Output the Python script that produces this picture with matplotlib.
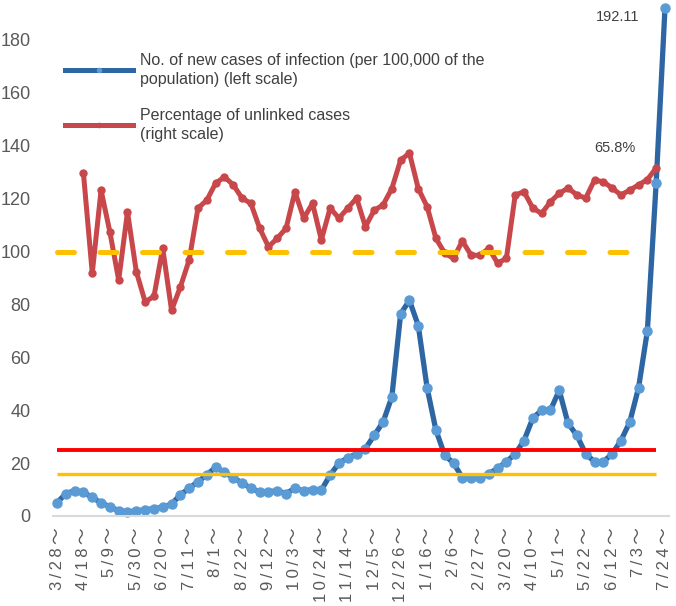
import numpy as np
import matplotlib
matplotlib.use("Agg")
import matplotlib.pyplot as plt
from matplotlib.lines import Line2D

plt.rcParams['font.family'] = ['Liberation Sans', 'DejaVu Sans', 'Noto Sans CJK JP']

# weekly data, 3/28 .. 7/24 (70 weeks), tick label every 3rd week
tick_weeks = ['3/28', '4/18', '5/9', '5/30', '6/20', '7/11', '8/1', '8/22',
              '9/12', '10/3', '10/24', '11/14', '12/5', '12/26', '1/16', '2/6',
              '2/27', '3/20', '4/10', '5/1', '5/22', '6/12', '7/3', '7/24']

# new cases per 100,000 (left scale)
new_cases = [5, 8.5, 9.5, 9, 7, 5, 3.5, 2, 1.5, 2,
             2.3, 2.8, 3.3, 4.5, 8, 10.5, 13, 15.5, 18.5, 16.5,
             14.5, 12.5, 10.5, 9, 9.2, 9.5, 8.5, 10.5, 9.5, 10,
             9.8, 15.5, 20, 22, 23.5, 25.5, 30.5, 35.5, 45, 76.5,
             81.5, 72, 48.5, 32.5, 23, 20, 14.5, 14.5, 14.5, 16,
             18, 20.5, 23.5, 28.5, 37, 40, 40, 47.5, 35, 30.5,
             23.5, 20.5, 20.5, 23.5, 28.5, 35.5, 48.5, 70, 126, 192.11]

# percentage of unlinked cases (right scale), starts at week 4/18
unlinked_first_week = 3
unlinked_pct = [64.8, 45.9, 61.6, 53.7, 44.6, 57.5, 46.2, 40.5, 41.5, 50.6,
                38.9, 43.3, 48.4, 58.2, 59.7, 62.9, 64.1, 62.6, 60.1, 59.1,
                54.4, 50.9, 52.5, 54.4, 61.3, 56.3, 59.1, 52.2, 58.2, 56.3,
                58.2, 60.1, 54.7, 57.8, 58.8, 61.9, 67.3, 68.6, 61.9, 58.5,
                52.5, 49.7, 48.7, 52.0, 49.3, 49.3, 50.6, 47.8, 48.7, 60.7,
                61.3, 58.2, 57.2, 59.4, 61.0, 62.0, 60.7, 60.1, 63.5, 63.2,
                62.0, 60.7, 61.6, 62.6, 63.6, 65.8]

stage4_level = 25      # red line (left scale)
stage3_level = 16      # yellow line (left scale)
unlinked_ref = 50      # dashed yellow (right scale, %)

blue_line = '#2D66A3'
blue_mark = '#5B9BD5'
red_series = '#C8474B'
red_hline = '#FF0000'
yellow = '#FFC000'
grey_txt = '#595959'

fig = plt.figure(figsize=(6.76, 6.06), dpi=100)
ax = fig.add_axes([52.6 / 676, 90 / 606, 616.8 / 676, 516 / 606])

x = np.arange(len(new_cases))
n_ref = len(x) - 1

ax.plot(x, new_cases, color=blue_line, lw=3.8, marker='o', ms=6.5,
        mfc=blue_mark, mec=blue_mark, zorder=2, clip_on=False)
ax.plot(x[:n_ref], [stage4_level] * n_ref, color=red_hline, lw=2.8,
        solid_capstyle='butt', zorder=3)
ax.plot(x[:n_ref], [stage3_level] * n_ref, color=yellow, lw=2.4,
        solid_capstyle='butt', zorder=3)

ax.set_xlim(-0.5, len(x) - 0.5)
ax.set_ylim(0, 195.1)
ax.set_yticks(range(0, 181, 20))
ax.set_xticks(x[::3])
# wide-set rotated labels, like the original
ax.set_xticklabels(['\u2009'.join(w) + '\u2009～' for w in tick_weeks], rotation=90)
ax.tick_params(axis='x', length=0, pad=8, labelsize=12, labelcolor=grey_txt)
ax.tick_params(axis='y', length=0, pad=16, labelsize=13, labelcolor=grey_txt)
for s in ['left', 'top', 'right']:
    ax.spines[s].set_visible(False)
ax.spines['bottom'].set_color('#D9D9D9')
ax.spines['bottom'].set_linewidth(1.5)

ax.annotate(f'{new_cases[-1]:.2f}', (x[-1], new_cases[-1]), xytext=(-47, -9),
            textcoords='offset pixels', ha='center', va='center',
            fontsize=10.5, color='#404040')

# right scale (hidden)
ax2 = ax.twinx()
ax2.set_ylim(0, 195.1 / 2)
ax2.axis('off')
xu = x[unlinked_first_week:unlinked_first_week + len(unlinked_pct)]
ax2.plot(xu, unlinked_pct, color=red_series, lw=3.6, marker='o', ms=5,
         mfc=red_series, mec=red_series, zorder=2)
ax2.plot(x[:n_ref - 1], [unlinked_ref] * (n_ref - 1), color=yellow, lw=3.6,
         linestyle=(0, (3.4, 5.1)), dash_capstyle='round', zorder=3)
ax2.annotate(f'{unlinked_pct[-1]:.1f}%', (xu[-1], unlinked_pct[-1]), xytext=(-41, 20),
             textcoords='offset pixels', ha='center', va='center',
             fontsize=10.5, color='#404040')

handles = [Line2D([], [], color=blue_line, lw=3.6, marker='o', ms=3,
                  mfc=blue_mark, mec=blue_mark),
           Line2D([], [], color=red_series, lw=3.6, marker='o', ms=3,
                  mfc=red_series, mec=red_series)]
labels = ['No. of new cases of infection (per 100,000 of the\npopulation) (left scale)',
          'Percentage of unlinked cases\n(right scale)']
leg = ax2.legend(handles, labels, loc='upper left',
                 bbox_to_anchor=(65 / 676, 1 - 53 / 606),
                 bbox_transform=fig.transFigure, frameon=False, fontsize=11.5,
                 handlelength=4.26, handletextpad=0.44, labelspacing=1.3,
                 borderpad=0, borderaxespad=0, labelcolor='#404040')
for t in leg.get_texts():
    t.set_linespacing(1.34)

fig.savefig('out.png', dpi=100)
